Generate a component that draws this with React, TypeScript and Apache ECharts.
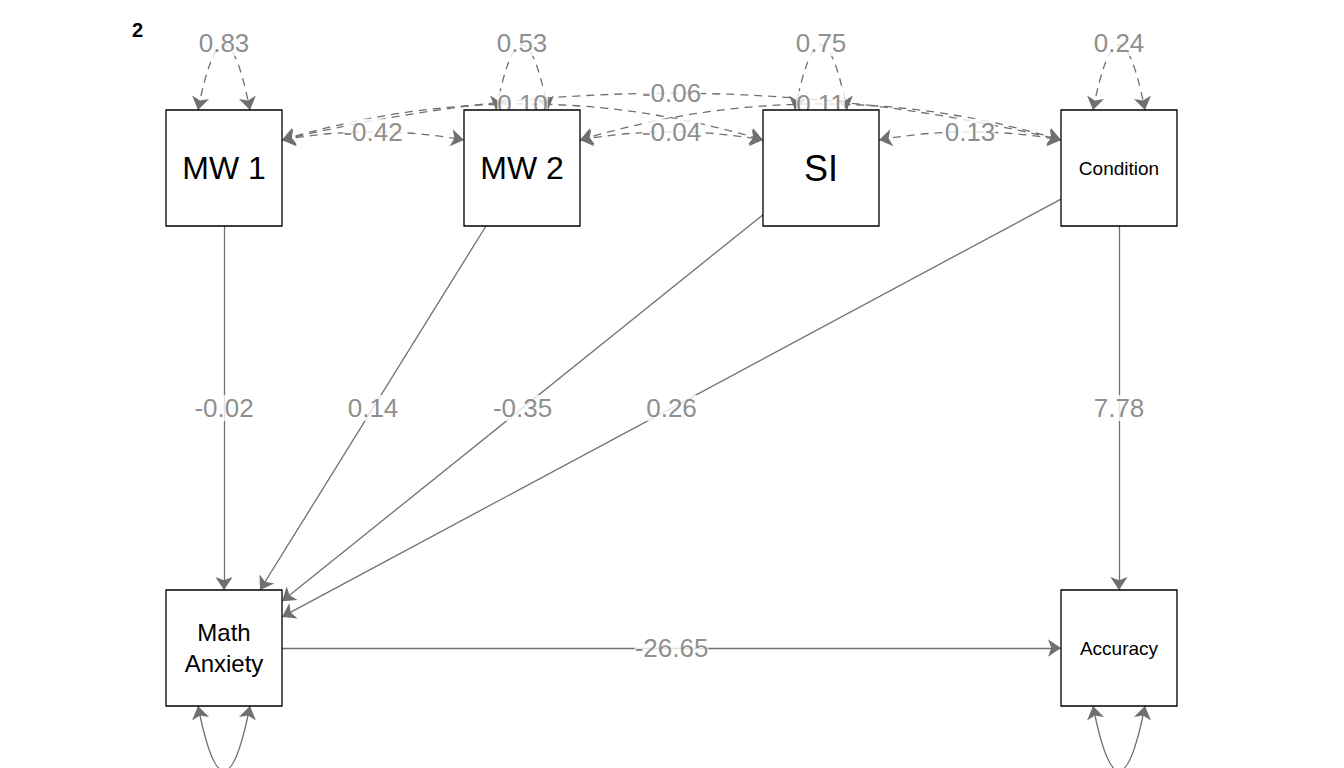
import { useEffect, useRef } from "react";
import * as echarts from "echarts";

// node names, positions (diagram coordinates) and label sizes
const nodeNames = ["MW 1", "MW 2", "SI", "Condition", "Math\nAnxiety", "Accuracy"];
const nodeX = [224, 522, 821, 1119, 224, 1119];
const nodeY = [168, 168, 168, 168, 648, 648];
const nodeFont = [32, 32, 36, 19, 24, 19];
const BOX = 116;

// regressions: [from, to, estimate]
const regressions: [number, number, string][] = [
  [0, 4, "-0.02"],
  [1, 4, "0.14"],
  [2, 4, "-0.35"],
  [3, 4, "0.26"],
  [3, 5, "7.78"],
  [4, 5, "-26.65"],
];

// covariances: [from, to, estimate, curveness]
const covariances: [number, number, string, number][] = [
  [0, 1, "-0.42", 0.09],
  [0, 2, "0.10", 0.15],
  [0, 3, "-0.06", 0.12],
  [1, 2, "-0.04", 0.09],
  [1, 3, "0.11", 0.15],
  [2, 3, "0.13", 0.09],
];

// residual variances: [node, estimate, side (-1 top, 1 bottom)]
const variances: [number, string, number][] = [
  [0, "0.83", -1],
  [1, "0.53", -1],
  [2, "0.75", -1],
  [3, "0.24", -1],
  [4, "0.15", 1],
  [5, "979.75", 1],
];

const grey = "#707070";
const font = "Liberation Sans, Arial, sans-serif";

function clip(a: number, b: number): number[][] {
  const dx = nodeX[b] - nodeX[a];
  const dy = nodeY[b] - nodeY[a];
  const h = BOX / 2;
  const t = Math.min(h / Math.abs(dx || 1e-9), h / Math.abs(dy || 1e-9));
  return [
    [nodeX[a] + dx * t, nodeY[a] + dy * t],
    [nodeX[b] - dx * t, nodeY[b] - dy * t],
  ];
}

// quadratic curve midpoint for a horizontal pair of points (positive c bows up)
function curveMid(p: number[][], c: number): number[] {
  const dx = p[1][0] - p[0][0];
  return [(p[0][0] + p[1][0]) / 2, (p[0][1] + p[1][1]) / 2 - (dx * c) / 2];
}

export default function App() {
  const ref = useRef<HTMLDivElement | null>(null);

  useEffect(() => {
    if (!ref.current) return;
    const chart = echarts.init(ref.current, undefined, { renderer: "svg" });

    const regLines = regressions.map(([a, b, v]) => ({ coords: clip(a, b), v }));
    const covLines = covariances.map(([a, b, v, c]) => ({
      coords: [
        [nodeX[a] + BOX / 2, nodeY[a] - 28],
        [nodeX[b] - BOX / 2, nodeY[b] - 28],
      ],
      c,
      v,
    }));
    const varLines = variances.map(([n, v, s]) => ({
      coords: [
        [nodeX[n] - 26, nodeY[n] + (s * BOX) / 2],
        [nodeX[n] + 26, nodeY[n] + (s * BOX) / 2],
      ],
      c: -s * 2.5,
      s,
      v,
    }));

    const labelPoints = [
      ...regLines.map((l) => ({
        value: [(l.coords[0][0] + l.coords[1][0]) / 2, (l.coords[0][1] + l.coords[1][1]) / 2],
        name: l.v,
      })),
      ...covLines.map((l) => ({ value: curveMid(l.coords, l.c), name: l.v })),
      ...varLines.map((l) => {
        const m = curveMid(l.coords, l.c);
        return { value: [m[0], m[1] + 2 * l.s], name: l.v };
      }),
    ];

    chart.setOption({
      animation: false,
      grid: { left: 0, right: 0, top: 0, bottom: 0 },
      xAxis: { type: "value", min: 0, max: 1344, show: false },
      yAxis: { type: "value", min: 0, max: 768, inverse: true, show: false },
      graphic: [
        {
          type: "text",
          left: 132,
          top: 20,
          style: { text: "2", fontSize: 20, fontWeight: "bold", fill: "#000", fontFamily: font },
        },
      ],
      series: [
        {
          type: "lines",
          coordinateSystem: "cartesian2d",
          symbol: ["none", "arrow"],
          symbolSize: 13,
          lineStyle: { color: grey, width: 1.3, opacity: 1 },
          data: regLines.map((l) => ({ coords: l.coords })),
        },
        {
          type: "lines",
          coordinateSystem: "cartesian2d",
          symbol: ["arrow", "arrow"],
          symbolSize: 13,
          lineStyle: { color: grey, width: 1.3, type: [8, 6], opacity: 1 },
          data: covLines.map((l) => ({ coords: l.coords, lineStyle: { curveness: l.c } })),
        },
        {
          type: "lines",
          coordinateSystem: "cartesian2d",
          symbol: ["arrow", "arrow"],
          symbolSize: 13,
          lineStyle: { color: grey, width: 1.3, opacity: 1 },
          data: varLines.map((l) => ({
            coords: l.coords,
            lineStyle: { curveness: l.c, type: l.s < 0 ? [8, 6] : "solid" },
          })),
        },
        {
          type: "scatter",
          z: 5,
          symbol: "rect",
          symbolSize: BOX,
          itemStyle: { color: "#fff", borderColor: "#000", borderWidth: 1.3, opacity: 1 },
          label: {
            show: true,
            position: "inside",
            color: "#000",
            fontFamily: font,
            formatter: (p: any) => nodeNames[p.dataIndex],
          },
          data: nodeNames.map((_, i) => ({
            value: [nodeX[i], nodeY[i]],
            label: { fontSize: nodeFont[i], lineHeight: nodeFont[i] * 1.3 },
          })),
        },
        {
          type: "scatter",
          z: 4,
          symbolSize: 0,
          label: {
            show: true,
            position: "inside",
            color: grey,
            fontSize: 26,
            fontFamily: font,
            backgroundColor: "#fff",
            formatter: (p: any) => p.name,
          },
          data: labelPoints,
        },
      ],
    });
    return () => chart.dispose();
  }, []);

  return (
    <div
      ref={ref}
      style={{ position: "fixed", left: 0, top: 0, width: 1344, height: 768, background: "#fff" }}
    />
  );
}
